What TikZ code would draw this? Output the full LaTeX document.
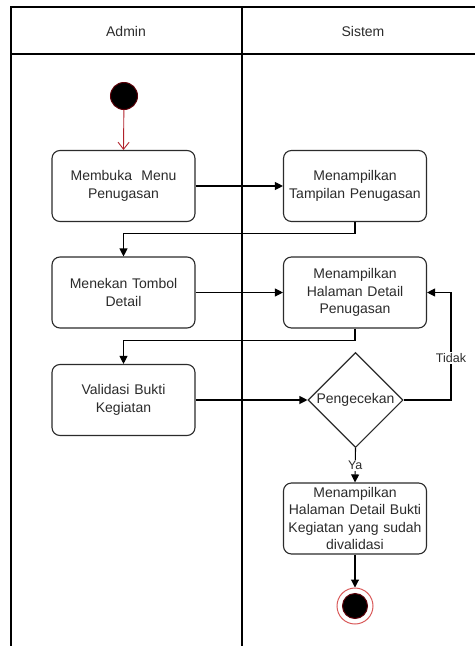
\documentclass[tikz,border=0pt]{standalone}
\usepackage{fontspec}
\setmainfont{Liberation Sans}
\usetikzlibrary{shapes.geometric,arrows.meta}
\definecolor{ink}{HTML}{2B2B2B}
\definecolor{startedge}{HTML}{5A0008}
\definecolor{endring}{HTML}{D95A5A}
\definecolor{initflow}{HTML}{B0202A}
\begin{document}
\begin{tikzpicture}[x=1pt,y=-1pt,
  lane/.style={draw=black,line width=1.2pt},
  headtext/.style={text=ink,font=\fontsize{14}{16}\selectfont},
  action/.style={draw=ink,line width=1.1pt,rounded corners=8pt,fill=white,
    minimum width=143pt,minimum height=71pt,align=center,text=ink,
    text width=140pt,inner sep=1pt,font=\fontsize{14}{17.5}\selectfont},
  decision/.style={diamond,draw=ink,line width=1.1pt,fill=white,inner sep=0pt,
    minimum width=95pt,minimum height=95pt,text=ink,font=\fontsize{14}{16}\selectfont},
  flow/.style={draw=black,line width=1.1pt,-{Triangle[length=8pt,width=8pt]}},
  startflow/.style={draw=initflow,line width=0.9pt,-{Straight Barb[length=7pt,width=11pt]}},
  guard/.style={fill=white,inner sep=1pt,text=ink,font=\fontsize{12.5}{14}\selectfont},
]
\useasboundingbox (0,0) rectangle (475,646);

% swimlanes
\draw[lane] (11,646) -- (11,7) -- (475,7);
\draw[lane] (11,54) -- (475,54);
\draw[lane] (242,7) -- (242,646);
\node[headtext] (hadmin) at (126,31) {Admin};
\node[headtext] (hsistem) at (363,31) {Sistem};

% start node
\node[circle,fill=black,draw=startedge,line width=1pt,minimum size=27pt,inner sep=0pt] (start) at (124,96) {};

% actions
\node[action] (b1) at (123.5,186) {Membuka~~Menu\\Penugasan};
\node[action] (b2) at (355,186) {Menampilkan\\Tampilan Penugasan};
\node[action] (b3) at (123.5,292.5) {Menekan Tombol\\Detail};
\node[action] (b4) at (355,292.5) {Menampilkan\\Halaman Detail\\Penugasan};
\node[action] (b5) at (123.5,400) {Validasi Bukti\\Kegiatan};
\node[decision] (dec) at (355.5,400) {Pengecekan};
\node[action] (b6) at (355,518.5) {Menampilkan\\Halaman Detail Bukti\\Kegiatan yang sudah\\divalidasi};

% final node
\node[circle,draw=endring,line width=1pt,fill=white,minimum size=36pt,inner sep=0pt] (final) at (355,606) {};
\node[circle,fill=black,draw=startedge,line width=1pt,minimum size=25pt,inner sep=0pt] (finalcore) at (final.center) {};

% connectors
\draw[startflow] (start) -- (b1.north);
\draw[flow] (b1.east) -- (b2.west);
\draw[flow] (b2.south) -- ++(0,11) -| (b3.north);
\draw[flow] (b3.east) -- (b4.west);
\draw[flow] (b4.south) -- ++(0,12) -| (b5.north);
\draw[flow] (b5.east) -- (dec.west);
\coordinate (tk1) at (451,400);
\coordinate (tk2) at (b4.east -| tk1);
\draw[flow] (dec.east) -- (tk1) -- node[guard,pos=0.39] (ltidak) {Tidak} (tk2) -- (b4.east);
\draw[flow] (dec.south) -- node[guard,pos=0.5] (lya) {Ya} (b6.north);
\draw[flow] (b6.south) -- (final.north);
\end{tikzpicture}
\end{document}
